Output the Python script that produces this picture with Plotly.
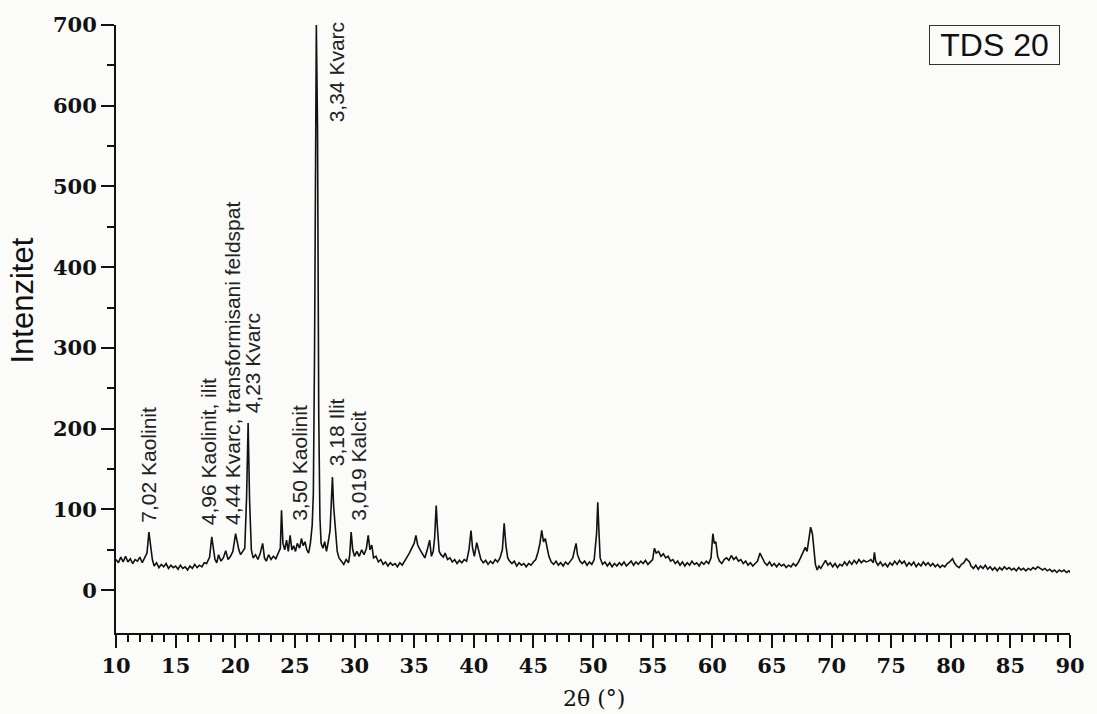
import plotly.graph_objects as go

# 2-theta positions (degrees)
two_theta = [
    10.0, 10.2, 10.4, 10.6, 10.8, 11.0, 11.2, 11.4, 11.6, 11.8, 12.0, 12.2, 12.4, 12.6, 12.76, 12.9,
    13.05, 13.2, 13.4, 13.6, 13.8, 14.0, 14.2, 14.4, 14.6, 14.8, 15.0, 15.2, 15.4, 15.6, 15.8,
    16.0, 16.2, 16.4, 16.6, 16.8, 17.0, 17.2, 17.4, 17.6, 17.85, 18.03, 18.15, 18.3, 18.45,
    18.6, 18.8, 19.0, 19.2, 19.4, 19.6, 19.8, 20.03, 20.15, 20.3, 20.45, 20.6, 20.8, 20.95,
    21.08, 21.2, 21.35, 21.5, 21.7, 21.9, 22.1, 22.3, 22.45, 22.6, 22.8, 23.0, 23.2, 23.4,
    23.6, 23.78, 23.88, 24.0, 24.15, 24.3, 24.45, 24.6, 24.75, 24.9, 25.05, 25.2, 25.4, 25.55,
    25.7, 25.85, 26.0, 26.15, 26.3, 26.45, 26.55, 26.65, 26.8, 26.9, 27.0, 27.1, 27.2, 27.35,
    27.5, 27.65, 27.8, 27.95, 28.05, 28.15, 28.25, 28.4, 28.55, 28.7, 28.9, 29.1, 29.3, 29.5,
    29.6, 29.72, 29.85, 30.0, 30.2, 30.4, 30.6, 30.8, 31.0, 31.15, 31.3, 31.45, 31.6, 31.8,
    32.0, 32.2, 32.4, 32.6, 32.8, 33.0, 33.2, 33.4, 33.6, 33.8, 34.0, 34.2, 34.4, 34.6, 34.8,
    35.0, 35.15, 35.3, 35.5, 35.7, 35.9, 36.1, 36.3, 36.45, 36.6, 36.72, 36.85, 36.95, 37.1,
    37.25, 37.45, 37.6, 37.8, 38.0, 38.2, 38.4, 38.6, 38.8, 39.0, 39.2, 39.4, 39.6, 39.77,
    39.9, 40.05, 40.25, 40.4, 40.6, 40.8, 41.0, 41.2, 41.4, 41.6, 41.8, 42.0, 42.2, 42.4,
    42.55, 42.7, 42.85, 43.0, 43.2, 43.4, 43.6, 43.8, 44.0, 44.2, 44.4, 44.6, 44.8, 45.0,
    45.2, 45.4, 45.55, 45.7, 45.85, 46.0, 46.15, 46.3, 46.5, 46.7, 46.9, 47.1, 47.3, 47.5,
    47.7, 47.9, 48.1, 48.3, 48.45, 48.58, 48.7, 48.9, 49.1, 49.3, 49.5, 49.7, 49.9, 50.1,
    50.3, 50.4, 50.5, 50.6, 50.8, 51.0, 51.2, 51.4, 51.6, 51.8, 52.0, 52.2, 52.4, 52.6,
    52.8, 53.0, 53.2, 53.4, 53.6, 53.8, 54.0, 54.2, 54.4, 54.6, 54.8, 55.0, 55.15, 55.3,
    55.5, 55.7, 55.9, 56.1, 56.3, 56.5, 56.7, 56.9, 57.1, 57.3, 57.5, 57.7, 57.9, 58.1,
    58.3, 58.5, 58.7, 58.9, 59.1, 59.3, 59.5, 59.7, 59.9, 60.05, 60.17, 60.3, 60.45, 60.6,
    60.8, 61.0, 61.2, 61.4, 61.6, 61.8, 62.0, 62.2, 62.4, 62.6, 62.8, 63.0, 63.2, 63.4,
    63.6, 63.8, 64.0, 64.15, 64.26, 64.4, 64.6, 64.8, 65.0, 65.2, 65.4, 65.6, 65.8, 66.0,
    66.2, 66.4, 66.6, 66.8, 67.0, 67.2, 67.4, 67.6, 67.8, 67.95, 68.1, 68.25, 68.4, 68.5,
    68.65, 68.8, 68.95, 69.1, 69.3, 69.5, 69.7, 69.9, 70.1, 70.3, 70.5, 70.7, 70.9, 71.1,
    71.3, 71.5, 71.7, 71.9, 72.1, 72.3, 72.5, 72.7, 72.9, 73.1, 73.3, 73.5, 73.6, 73.7,
    73.9, 74.1, 74.3, 74.5, 74.7, 74.9, 75.1, 75.3, 75.5, 75.7, 75.9, 76.1, 76.3, 76.5,
    76.7, 76.9, 77.1, 77.3, 77.5, 77.7, 77.9, 78.1, 78.3, 78.5, 78.7, 78.9, 79.1, 79.3,
    79.5, 79.7, 79.9, 80.15, 80.3, 80.5, 80.7, 80.9, 81.1, 81.3, 81.57, 81.7, 81.9, 82.1,
    82.3, 82.5, 82.7, 82.9, 83.1, 83.3, 83.5, 83.7, 83.9, 84.1, 84.3, 84.5, 84.7, 84.9,
    85.1, 85.3, 85.5, 85.7, 85.9, 86.1, 86.3, 86.5, 86.7, 86.9, 87.1, 87.3, 87.5, 87.7,
    87.9, 88.1, 88.3, 88.5, 88.7, 88.9, 89.1, 89.3, 89.5, 89.7, 89.9, 90.0,
]

# intensity (counts)
intensity = [
    38, 34, 41, 35, 42, 35, 39, 33, 38, 36, 41, 34, 40, 46, 72, 58,
    38, 30, 34, 28, 32, 29, 33, 27, 31, 28, 30, 26, 31, 27, 29,
    25, 30, 27, 32, 28, 31, 29, 34, 33, 41, 66, 52, 38, 34,
    44, 36, 40, 49, 38, 42, 48, 70, 60, 50, 44, 48, 52, 115,
    207, 112, 50, 40, 44, 38, 46, 58, 40, 36, 44, 38, 42, 39,
    45, 52, 99, 58, 50, 62, 48, 68, 50, 55, 48, 58, 52, 64,
    55, 60, 50, 46, 58, 80, 120, 296, 700, 572, 218, 90, 58, 52,
    60, 48, 60, 74, 107, 140, 104, 70, 48, 40, 36, 32, 38, 34,
    44, 72, 50, 42, 48, 42, 50, 44, 52, 68, 50, 56, 40, 42,
    35, 38, 32, 35, 30, 34, 31, 33, 29, 34, 31, 36, 40, 46, 52,
    58, 68, 56, 50, 44, 40, 50, 62, 42, 48, 65, 105, 78, 48,
    44, 41, 46, 38, 40, 35, 38, 33, 37, 34, 38, 36, 50, 74,
    52, 42, 59, 50, 38, 34, 37, 32, 36, 33, 38, 35, 40, 50,
    83, 55, 40, 36, 33, 36, 30, 34, 31, 33, 29, 33, 31, 35,
    38, 48, 58, 74, 60, 64, 52, 42, 35, 32, 36, 31, 34, 30,
    35, 32, 36, 40, 50, 58, 44, 36, 33, 36, 31, 35, 32, 38,
    70, 109, 72, 40, 32, 35, 30, 34, 29, 33, 30, 34, 31, 35,
    30, 33, 36, 31, 35, 32, 36, 33, 37, 32, 35, 38, 52, 46,
    48, 42, 45, 40, 42, 36, 38, 33, 36, 31, 35, 30, 34, 31,
    36, 32, 34, 30, 35, 32, 36, 33, 40, 70, 58, 60, 42, 36,
    33, 38, 40, 37, 43, 38, 41, 36, 38, 33, 36, 31, 34, 30,
    33, 36, 46, 42, 38, 34, 31, 35, 30, 33, 29, 33, 30, 32,
    28, 31, 29, 33, 30, 34, 40, 46, 53, 48, 62, 78, 70, 56,
    32, 25, 30, 27, 33, 37, 31, 34, 29, 33, 28, 32, 30, 35,
    31, 36, 32, 37, 33, 38, 34, 37, 35, 36, 38, 34, 47, 36,
    31, 35, 30, 33, 29, 34, 31, 36, 32, 37, 33, 36, 30, 34,
    31, 35, 29, 33, 30, 35, 31, 34, 30, 33, 29, 32, 28, 31,
    29, 33, 35, 39, 34, 30, 28, 32, 34, 39, 35, 30, 27, 31,
    26, 30, 27, 31, 26, 29, 25, 28, 24, 28, 25, 29, 26, 28,
    25, 27, 24, 28, 25, 27, 24, 27, 25, 28, 26, 29, 27, 25,
    27, 24, 26, 23, 25, 22, 25, 23, 25, 22, 24, 22, 23,
]

# peak labels: text, 2-theta at label centre, intensity at label base
label_texts = [
    "7,02 Kaolinit", "4,96 Kaolinit, ilit", "4,44 Kvarc, transformisani feldspat",
    "4,23 Kvarc", "3,50 Kaolinit", "3,34 Kvarc", "3,18 Ilit", "3,019 Kalcit",
]
label_x = [12.76, 17.75, 19.75, 21.45, 25.4, 28.45, 28.45, 30.35]
label_y = [81, 78, 78, 216, 83, 577, 151, 83]

x_ticks = list(range(10, 95, 5))
y_ticks = [0, 100, 200, 300, 400, 500, 600, 700]
y_minor = [50, 150, 250, 350, 450, 550, 650]

serif = "DejaVu Serif, Liberation Serif, serif"
sans = "Arial, Liberation Sans, sans-serif"

fig = go.Figure()
fig.add_trace(go.Scatter(
    x=two_theta, y=intensity, mode="lines",
    line=dict(color="#111111", width=1.6), showlegend=False,
))

for t, lx, ly in zip(label_texts, label_x, label_y):
    fig.add_annotation(
        x=lx, y=ly, xref="x", yref="y", text=t, textangle=-90,
        showarrow=False, xanchor="center", yanchor="bottom",
        font=dict(family=sans, size=21, color="#222222"),
    )

fig.add_annotation(
    x=0.921, y=0.967, xref="paper", yref="paper", text="TDS 20",
    showarrow=False, xanchor="center", yanchor="middle",
    font=dict(family=sans, size=32, color="#111111"),
    bordercolor="#333333", borderwidth=1, borderpad=1, width=127, height=36,
)

fig.add_annotation(
    x=-0.098, y=0.546, xref="paper", yref="paper", text="Intenzitet",
    textangle=-90, showarrow=False, xanchor="center", yanchor="middle",
    font=dict(family=sans, size=31, color="#111111"),
)

fig.add_annotation(
    x=0.501, y=-0.107, xref="paper", yref="paper", text="2θ (°)",
    showarrow=False, xanchor="center", yanchor="middle",
    font=dict(family=serif, size=22, color="#111111"),
)

tick_font = dict(family=serif, size=21, color="#111111", weight="bold")

fig.update_layout(
    width=1097, height=714,
    margin=dict(l=116, r=24, t=23, b=81),
    paper_bgcolor="#fbfbfa", plot_bgcolor="#fbfbfa",
    xaxis=dict(
        range=[10, 90], tickvals=x_ticks, ticks="outside", ticklen=13, tickwidth=2,
        tickcolor="#111111", showline=True, linecolor="#111111", linewidth=2,
        showgrid=False, zeroline=False, tickfont=tick_font,
        minor=dict(dtick=1, tick0=10, ticks="outside", ticklen=7, tickwidth=1.5, tickcolor="#111111", showgrid=False),
    ),
    yaxis=dict(
        range=[-53, 700], tickvals=y_ticks, ticks="outside", ticklen=13, tickwidth=2,
        tickcolor="#111111", showline=True, linecolor="#111111", linewidth=2,
        showgrid=False, zeroline=False, tickfont=tick_font,
        minor=dict(tickvals=y_minor, ticks="outside", ticklen=7, tickwidth=1.5, tickcolor="#111111", showgrid=False),
    ),
)

fig.write_html("out.html")
